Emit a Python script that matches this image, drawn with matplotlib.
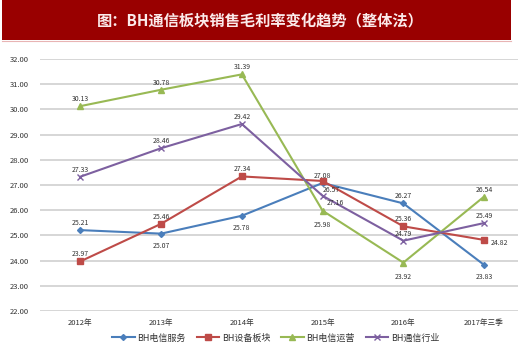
import matplotlib
matplotlib.use("Agg")
import matplotlib.pyplot as plt
from matplotlib.patches import Rectangle

plt.rcParams['font.family'] = ['Noto Sans CJK SC', 'DejaVu Sans']

# ---------------------------------------------------------------------------
# Data
# ---------------------------------------------------------------------------
categories = ["2012年", "2013年", "2014年", "2015年", "2016年", "2017年三季"]
telecom_service = [25.21, 25.07, 25.78, 27.08, 26.27, 23.83]
equipment = [23.97, 25.46, 27.34, 27.16, 25.36, 24.82]
telecom_ops = [30.13, 30.78, 31.39, 25.98, 23.92, 26.54]
industry = [27.33, 28.46, 29.42, 26.57, 24.79, 25.49]

series_names = ["BH电信服务", "BH设备板块", "BH电信运营", "BH通信行业"]
y_ticks = [22, 23, 24, 25, 26, 27, 28, 29, 30, 31, 32]

# label offsets in points (dx, dy) per point
offsets = [
    [(0, 5), (0, -9), (0, -9), (0, 5), (0, 5), (0, -9)],
    [(0, 5), (0, 5), (0, 5), (9, -16), (0, 5), (11, -2)],
    [(0, 5), (0, 5), (0, 5), (0, -10), (0, -10), (0, 5)],
    [(0, 5), (0, 5), (0, 5), (6, 4), (0, 5), (0, 5)],
]
styles = [
    dict(color="#4a7ebb", marker="D", markersize=3),
    dict(color="#be4b48", marker="s", markersize=4),
    dict(color="#98b954", marker="^", markersize=4.5),
    dict(color="#7d60a0", marker="x", markersize=4, markeredgewidth=1),
]

fig = plt.figure(figsize=(5.2, 3.54), dpi=100)
fig.patch.set_facecolor("white")

# title banner
fig.patches.append(Rectangle((2 / 520, 1 - 40 / 354), 509 / 520, 40 / 354,
                             transform=fig.transFigure, facecolor="#990000",
                             edgecolor="none", zorder=0))
fig.add_artist(plt.Line2D([2 / 520, 511 / 520], [1 - 41 / 354] * 2,
                          transform=fig.transFigure, color="#e8b4b4", lw=0.8))
fig.text(0.5, 1 - 20 / 354, "图：BH通信板块销售毛利率变化趋势（整体法）",
         ha="center", va="center", color="#fbeaea", fontsize=11,
         fontweight="bold")

ax = fig.add_axes([40 / 520, 1 - 311 / 354, 478 / 520, 252 / 354])
x = list(range(len(categories)))
all_series = [telecom_service, equipment, telecom_ops, industry]

for vals, name, st, offs in zip(all_series, series_names, styles, offsets):
    ax.plot(x, vals, lw=1.5, label=name, zorder=3, **st)
    for xi, v, (dx, dy) in zip(x, vals, offs):
        ax.annotate(f"{v:.2f}", (xi, v), xytext=(dx, dy),
                    textcoords="offset points", ha="center", va="center",
                    fontsize=5, color="#333333", zorder=4)

ax.set_xlim(-0.5, 5.42)
ax.set_ylim(22, 32)
ax.set_yticks(y_ticks)
ax.set_yticklabels([f"{t:.2f}" for t in y_ticks], fontsize=5.5, color="#333333")
ax.set_xticks(x)
ax.set_xticklabels(categories, fontsize=5.5, color="#333333")
ax.tick_params(length=0, pad=6)
ax.tick_params(axis="y", pad=8)
ax.grid(axis="y", color="#d0d0d0", lw=1.2)
ax.set_axisbelow(True)
for s in ax.spines.values():
    s.set_visible(False)

fig.legend(loc="center", bbox_to_anchor=(0.53, 1 - 338 / 354), ncol=4,
           frameon=False, fontsize=6.5, handlelength=2.5, columnspacing=1.2,
           handletextpad=0.3, labelcolor="#333333")

fig.savefig("out.png", dpi=100, facecolor="white")
